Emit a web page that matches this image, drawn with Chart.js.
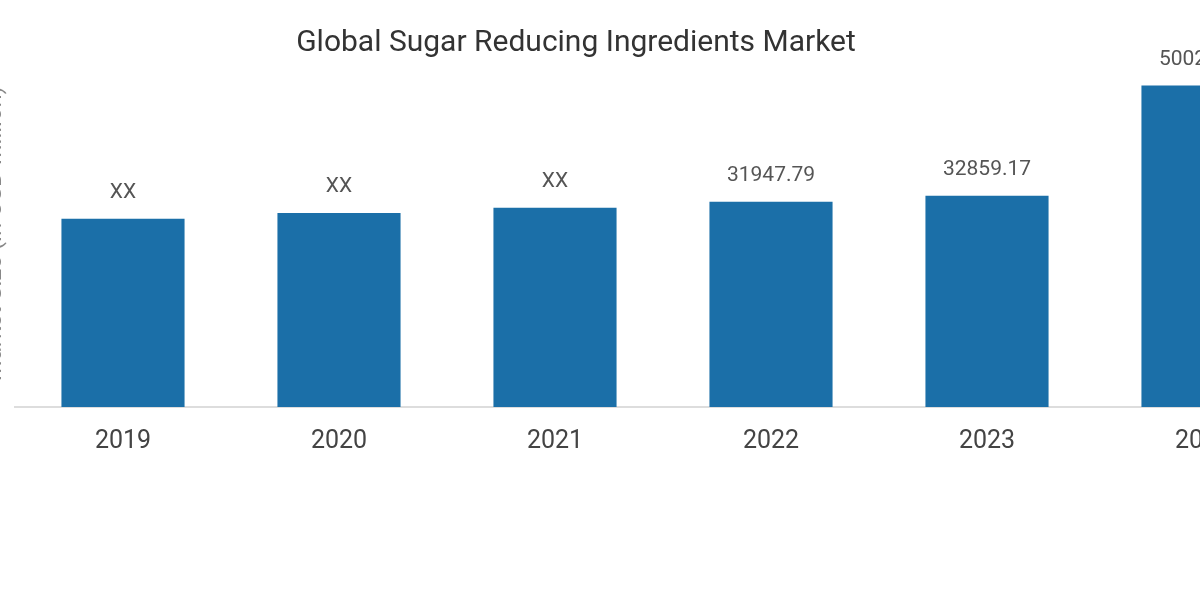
<!DOCTYPE html>
<html>
<head>
<meta charset="utf-8">
<script src="https://cdn.jsdelivr.net/npm/chart.js@4"></script>
<style>
html,body{margin:0;padding:0;background:#fff;overflow:hidden;width:1200px;height:600px;}
#wrap{position:absolute;left:-19px;top:0;width:1330px;height:600px;}
</style>
</head>
<body>
<div id="wrap"><canvas id="c" width="1330" height="600"></canvas></div>
<script>
const categories = ["2019", "2020", "2021", "2022", "2023", "2032"];
const marketValues = [29300, 30200, 31000, 31947.79, 32859.17, 50020];
const valueLabels = ["XX", "XX", "XX", "31947.79", "32859.17", "50020.18"];
const chartTitle = "Global Sugar Reducing Ingredients Market";
const yAxisTitle = "Market Size (in USD Million)";

const barLabelPlugin = {
  id: 'barLabels',
  afterDatasetsDraw(chart) {
    const ctx = chart.ctx;
    const meta = chart.getDatasetMeta(0);
    ctx.save();
    ctx.font = '21px Roboto';
    ctx.fillStyle = '#555';
    ctx.textAlign = 'center';
    ctx.textBaseline = 'middle';
    meta.data.forEach((bar, i) => {
      ctx.fillText(valueLabels[i], bar.x, bar.y - 26);
    });
    ctx.restore();
  }
};

const titlePlugin = {
  id: 'fixedTitle',
  afterDraw(chart) {
    const ctx = chart.ctx;
    ctx.save();
    ctx.font = '30px Roboto';
    ctx.fillStyle = '#333';
    ctx.textAlign = 'center';
    ctx.textBaseline = 'middle';
    ctx.fillText(chartTitle, 595, 43);
    ctx.restore();
  }
};

new Chart(document.getElementById('c'), {
  type: 'bar',
  data: {
    labels: categories,
    datasets: [{
      data: marketValues,
      backgroundColor: '#1b6fa8',
      borderWidth: 0,
      barPercentage: 0.57,
      categoryPercentage: 1.0
    }]
  },
  options: {
    responsive: false,
    animation: false,
    layout: { padding: { left: 0, right: 0, top: 60, bottom: 0 } },
    plugins: {
      legend: { display: false },
      tooltip: { enabled: false },
      title: { display: false }
    },
    scales: {
      x: {
        grid: { display: false },
        border: { display: true, color: '#dddddd', width: 2 },
        ticks: { color: '#444', font: { family: 'Roboto', size: 25 }, padding: 12 },
        afterFit(s) { s.height = 193; }
      },
      y: {
        min: 0,
        max: 54000,
        grid: { display: false },
        border: { display: false },
        ticks: { display: false },
        title: { display: true, text: yAxisTitle, color: '#888', font: { family: 'Roboto', size: 24 }, padding: 0 },
        afterFit(s) { s.width = 34; }
      }
    }
  },
  plugins: [barLabelPlugin, titlePlugin]
});
</script>
</body>
</html>
